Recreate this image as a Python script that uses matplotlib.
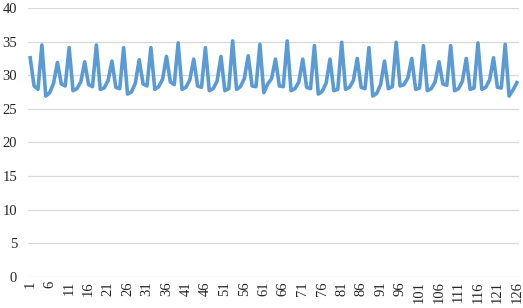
import matplotlib
matplotlib.use("Agg")
import matplotlib.pyplot as plt

plt.rcParams['font.family'] = ['Liberation Serif', 'DejaVu Serif']

# daily values
days = list(range(1, 127))
values = [
    32.6, 28.4, 27.9, 34.5, 26.9, 27.4, 28.8,
    31.9, 28.7, 28.4, 34.1, 27.7, 28.0, 29.0,
    32.0, 28.6, 28.3, 34.5, 27.9, 28.1, 29.2,
    32.1, 28.2, 28.0, 34.1, 27.2, 27.5, 28.8,
    32.3, 28.7, 28.4, 34.1, 27.9, 28.3, 29.4,
    32.8, 29.0, 28.6, 34.8, 27.9, 28.2, 29.3,
    32.4, 28.4, 28.2, 34.1, 27.7, 28.0, 29.1,
    32.8, 27.7, 28.0, 35.1, 27.9, 28.3, 29.5,
    32.9, 28.4, 28.3, 34.6, 27.4, 28.7, 29.5,
    32.4, 28.4, 28.3, 35.1, 27.7, 28.0, 29.0,
    32.4, 28.2, 28.0, 34.4, 27.2, 27.6, 28.8,
    32.4, 27.7, 27.9, 34.9, 27.9, 28.2, 29.2,
    32.5, 28.2, 28.0, 34.1, 26.9, 27.3, 28.6,
    32.1, 28.0, 28.3, 34.9, 28.4, 28.6, 29.6,
    32.5, 27.9, 28.1, 34.4, 27.7, 28.0, 29.0,
    32.0, 28.7, 28.5, 34.4, 27.7, 28.0, 29.1,
    32.5, 27.9, 28.1, 34.8, 27.9, 28.2, 29.3,
    32.6, 28.2, 28.1, 34.6, 26.9, 27.8, 28.9,
]
xtick_days = list(range(1, 127, 5))
yticks = list(range(0, 45, 5))

fig = plt.figure(figsize=(5.23, 3.08), dpi=100)
ax = fig.add_axes([0.054, 0.101, 0.938, 0.873])

ax.plot(days, values, color='#5B9BD5', linewidth=2.6, solid_joinstyle='round')

ax.set_xlim(0.5, 126.5)
ax.set_ylim(0, 40)
ax.set_yticks(yticks)
ax.set_xticks(xtick_days)
ax.set_xticklabels([str(d) for d in xtick_days], rotation=90)
ax.grid(axis='y', color='#D9D9D9', linewidth=0.9)
ax.set_axisbelow(True)
for s in ax.spines.values():
    s.set_visible(False)
ax.tick_params(axis='both', length=0, labelsize=10.5, colors='#262626')
ax.tick_params(axis='y', pad=8)
ax.tick_params(axis='x', pad=3)

fig.savefig('out.png', dpi=100)
